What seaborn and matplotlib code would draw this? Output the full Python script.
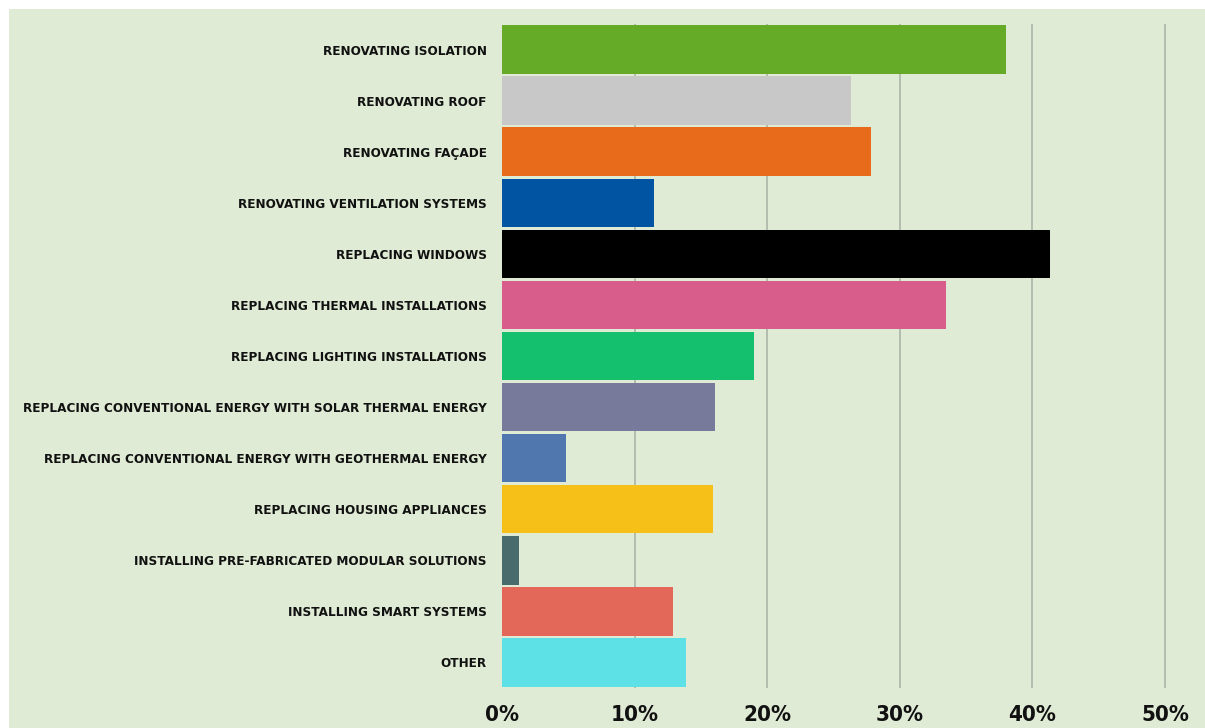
import matplotlib
matplotlib.use("Agg")
import matplotlib.pyplot as plt
import seaborn as sns
import pandas as pd
from matplotlib.patches import Rectangle

categories = [
    "RENOVATING ISOLATION",
    "RENOVATING ROOF",
    "RENOVATING FAÇADE",
    "RENOVATING VENTILATION SYSTEMS",
    "REPLACING WINDOWS",
    "REPLACING THERMAL INSTALLATIONS",
    "REPLACING LIGHTING INSTALLATIONS",
    "REPLACING CONVENTIONAL ENERGY WITH SOLAR THERMAL ENERGY",
    "REPLACING CONVENTIONAL ENERGY WITH GEOTHERMAL ENERGY",
    "REPLACING HOUSING APPLIANCES",
    "INSTALLING PRE-FABRICATED MODULAR SOLUTIONS",
    "INSTALLING SMART SYSTEMS",
    "OTHER",
]
values = [38.0, 26.3, 27.8, 11.5, 41.3, 33.5, 19.0, 16.1, 4.8, 15.9, 1.3, 12.9, 13.9]
colors = ["#66ab27", "#c8c8c8", "#e86b1c", "#0054a2", "#000000", "#d95d8a", "#14c06e",
          "#787a9c", "#5078ae", "#f7c018", "#4a6b6b", "#e4685a", "#5de0e6"]
xticks = [0, 10, 20, 30, 40, 50]
xtick_labels = ["0%", "10%", "20%", "30%", "40%", "50%"]

BG = "#dfebd4"
df = pd.DataFrame({"category": categories, "value": values})

sns.set_theme(style="white")
plt.rcParams['font.family'] = ['DejaVu Sans']

fig = plt.figure(figsize=(12.05, 7.28), dpi=100, facecolor="white")
fig.patches.append(Rectangle((9 / 1205, 0), 1, 1 - 9 / 728, transform=fig.transFigure,
                             facecolor=BG, edgecolor="none", zorder=-10))
ax = fig.add_axes([502 / 1205, 1 - 688 / 728, 52 * 13.26 / 1205, (688 - 24) / 728])
ax.set_facecolor("none")

for x in xticks[1:]:
    ax.axvline(x, color="#b3bcaf", lw=1.4, zorder=0)

sns.barplot(data=df, y="category", x="value", hue="category", palette=dict(zip(categories, colors)),
            orient="h", width=0.95, legend=False, ax=ax, zorder=2, saturation=1, linewidth=0)

ax.set_xlim(0, 52)
ax.set_ylim(12.5, -0.5)
ax.set_xticks(xticks)
ax.set_xticklabels(xtick_labels, fontsize=16, fontweight="bold", fontstretch="condensed", color="#111111")
ax.set_yticks(range(len(categories)))
ax.set_yticklabels(categories, fontsize=9.6, fontweight="bold", fontstretch="condensed", color="#111111")
ax.tick_params(axis="y", length=0, pad=11)
ax.tick_params(axis="x", length=0, pad=12)
ax.set_xlabel("")
ax.set_ylabel("")
for s in ax.spines.values():
    s.set_visible(False)

fig.savefig("out.png", dpi=100, facecolor="white")
